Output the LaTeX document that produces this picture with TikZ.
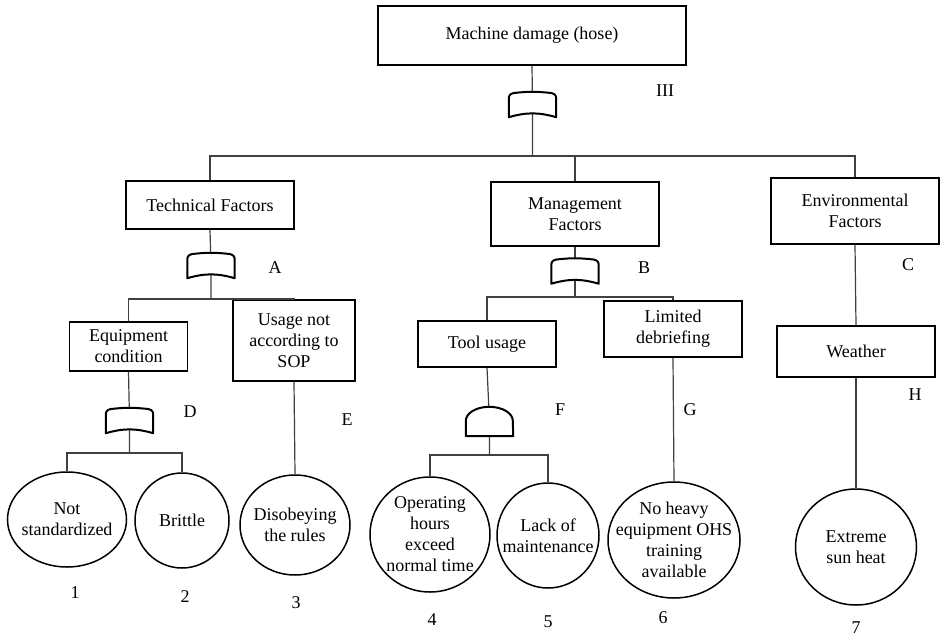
\documentclass[tikz,border=0pt]{standalone}
\usepackage{fontspec}
\setmainfont{Liberation Serif}
\usetikzlibrary{positioning,shapes.geometric}
\tikzset{
  event/.style={
    draw,
    line width=1.5pt,
    align=center,
    inner sep=2pt,
    font=\fontsize{18}{21}\selectfont
  },
  basic/.style={
    ellipse,
    draw,
    line width=1.5pt,
    inner sep=0pt
  },
  basictext/.style={align=center, inner sep=0pt, font=\fontsize{18}{21}\selectfont},
  gate/.style={minimum width=47pt, minimum height=24pt, inner sep=0pt},
  tag/.style={inner sep=0pt, font=\fontsize{18}{21}\selectfont},
  link/.style={draw=black!75, line width=1.2pt},
  gateline/.style={draw=black, line width=2pt, fill=white, line join=round}
}
\newcommand{\orshape}[1]{%
  \draw[gateline] (#1.south west) -- ([yshift=-5pt]#1.north west)
    to[out=90,in=180] ([xshift=7pt]#1.north west)
    to[bend left=6] ([xshift=-7pt]#1.north east)
    to[out=0,in=90] ([yshift=-5pt]#1.north east)
    -- (#1.south east) to[bend right=16] (#1.south west) -- cycle;}
\newcommand{\andshape}[1]{%
  \draw[gateline] (#1.south west) -- ([yshift=-14pt]#1.north west)
    arc[start angle=180, end angle=0, x radius=23.5pt, y radius=14pt]
    -- (#1.south east) -- cycle;}

\begin{document}
\begin{tikzpicture}[x=1pt, y=1pt]
\useasboundingbox (0,0) rectangle (940,-640);

\node[event, minimum width=308pt, minimum height=59pt] (top) at (532,-35.5) {Machine damage (hose)};
\node[gate] (gIII) at (532.5,-105) {};
\node[tag] (lIII) at (665,-91) {III};

\node[event, minimum width=168pt, minimum height=48pt] (tech) at (210,-205) {Technical Factors};
\node[event, minimum width=168pt, minimum height=64pt] (mgmt) at (575,-214) {Management\\Factors};
\node[event, minimum width=168pt, minimum height=66pt] (env) at (855,-211) {Environmental\\Factors};

\node[gate] (gA) at (211,-266) {};
\node[tag] (lA) at (275,-268) {A};
\node[gate] (gB) at (575,-271.5) {};
\node[tag] (lB) at (644,-268) {B};
\node[tag] (lC) at (908,-265) {C};

\node[event, minimum width=118pt, minimum height=49pt] (eqp) at (128.5,-346.5) {Equipment\\condition};
\node[event, minimum width=122pt, minimum height=81pt] (usage) at (294,-340.5) {Usage not\\according to\\SOP};
\node[event, minimum width=138pt, minimum height=46pt] (tool) at (487,-344) {Tool usage};
\node[event, minimum width=138pt, minimum height=56pt] (limited) at (673,-329) {Limited\\debriefing};
\node[event, minimum width=158pt, minimum height=51pt] (weather) at (856,-351.5) {Weather};

\node[gate] (gD) at (129.5,-421) {};
\node[tag] (lD) at (190,-412) {D};
\node[tag] (lE) at (347,-420) {E};
\node[gate, minimum height=29pt] (gF) at (489.5,-421.5) {};
\node[tag] (lF) at (560,-410) {F};
\node[tag] (lG) at (690,-410) {G};
\node[tag] (lH) at (915,-395) {H};

\node[basic, minimum width=119pt, minimum height=95pt, label={[basictext]center:Not\\standardized}] (notstd) at (67,-519.5) {};
\node[basic, minimum width=94pt, minimum height=95pt, label={[basictext]center:Brittle}] (brittle) at (182,-520.5) {};
\node[basic, minimum width=110pt, minimum height=100pt, label={[basictext]center:Disobeying\\the rules}] (disobey) at (295,-525) {};
\node[basic, minimum width=120pt, minimum height=115pt, label={[basictext]center:Operating\\hours\\exceed\\normal time}] (ophours) at (430,-534.5) {};
\node[basic, minimum width=102pt, minimum height=105pt, label={[basictext]center:Lack of\\maintenance}] (lack) at (548,-535.5) {};
\node[basic, minimum width=132pt, minimum height=116pt, label={[basictext]center:No heavy\\equipment OHS\\training\\available}] (noohs) at (674,-540) {};
\node[basic, minimum width=121pt, minimum height=116pt, label={[basictext]center:Extreme\\sun heat}] (sun) at (856,-547) {};

\node[tag] (n1) at (75,-593) {1};
\node[tag] (n2) at (185,-597) {2};
\node[tag] (n3) at (296,-603) {3};
\node[tag] (n4) at (432,-620) {4};
\node[tag] (n5) at (548,-622) {5};
\node[tag] (n6) at (663,-618) {6};
\node[tag] (n7) at (856,-628) {7};

\coordinate (b1) at (532.5,-156);
\coordinate (b2) at (211,-299);
\coordinate (b3) at (129.5,-453);
\coordinate (b4) at (575,-297);
\coordinate (b5) at (489.5,-455);

\draw[link] (top.south) -- (gIII.center) -- (b1);
\draw[link] (tech.north) |- (b1) -| (env.north);
\draw[link] (mgmt.north) -- (mgmt.north |- b1);

\draw[link] (tech.south) -- (gA.center) -- (b2);
\draw[link] (eqp.north) |- (b2) -| (usage.north);
\draw[link] (mgmt.south) -- (gB.center) -- (b4);
\draw[link] (tool.north) |- (b4) -| (limited.north);
\draw[link] (env.south) -- (weather.north);

\draw[link] (eqp.south) -- (gD.center) -- (b3);
\draw[link] (notstd.north) |- (b3) -| (brittle.north);
\draw[link] (usage.south) -- (disobey.north);
\draw[link] (tool.south) -- (gF.center) -- (b5);
\draw[link] (ophours.north) |- (b5) -| (lack.north);
\draw[link] (limited.south) -- (noohs.north);
\draw[link] (weather.south) -- (sun.north);

\orshape{gIII}
\orshape{gA}
\orshape{gB}
\orshape{gD}
\andshape{gF}
\end{tikzpicture}
\end{document}
